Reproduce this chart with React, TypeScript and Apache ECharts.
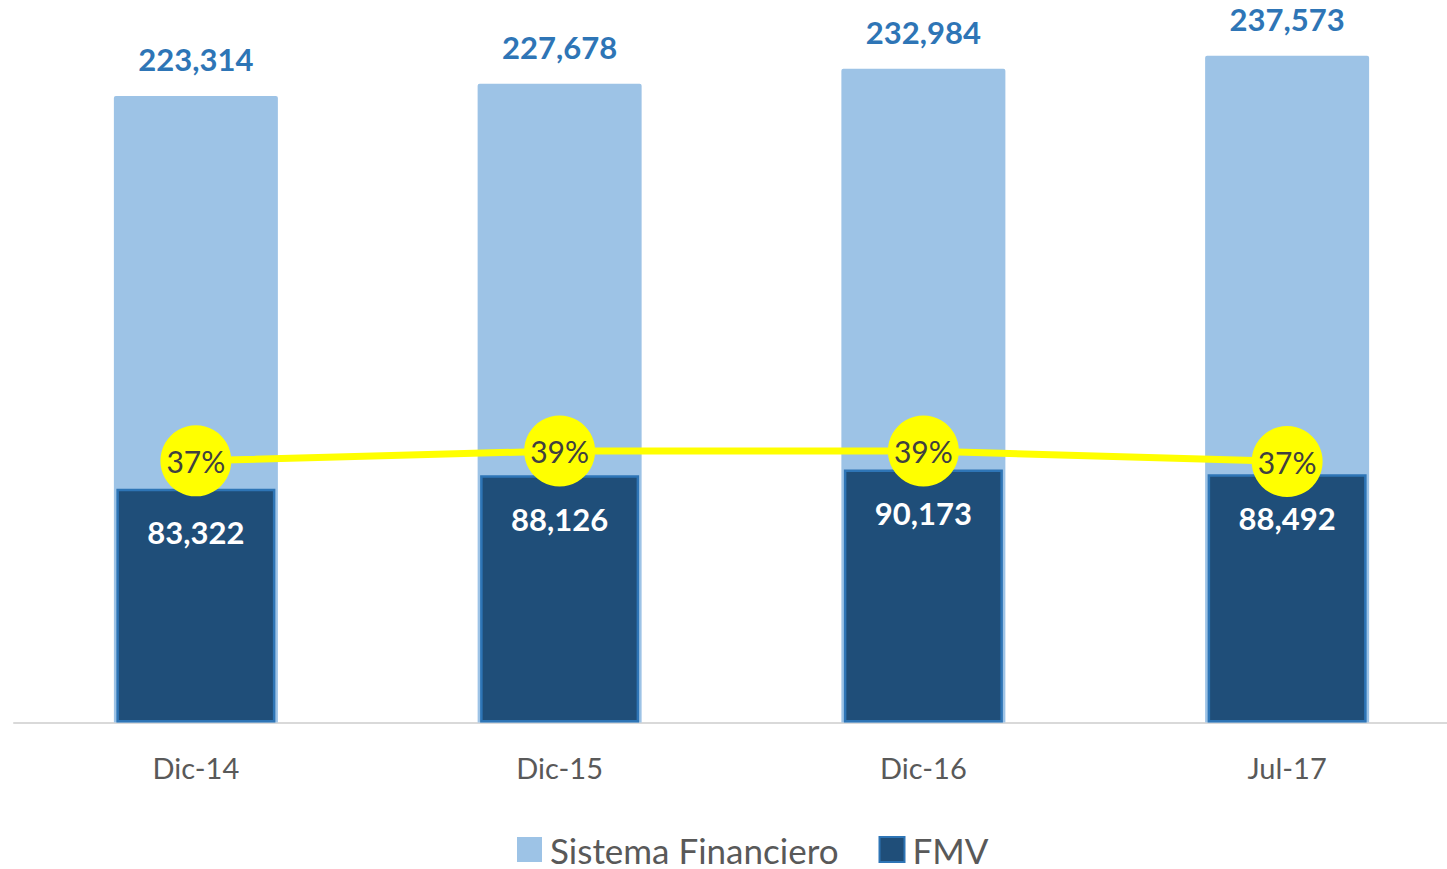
import React, { useEffect, useRef } from "react";
import * as echarts from "echarts";

const categories = ["Dic-14", "Dic-15", "Dic-16", "Jul-17"];
const sistemaFinanciero = [223314, 227678, 232984, 237573];
const fmv = [83322, 88126, 90173, 88492];
const participacion = [0.373, 0.387, 0.387, 0.372];

const FONT = "Lato, 'Open Sans', sans-serif";

export default function App() {
  const ref = useRef<HTMLDivElement>(null);
  useEffect(() => {
    if (!ref.current) return;
    const chart = echarts.init(ref.current, null, { renderer: "svg" });
    const fmt = (v: number) => v.toLocaleString("en-US");
    chart.setOption({
      animation: false,
      backgroundColor: "#ffffff",
      textStyle: { fontFamily: FONT },
      grid: { left: 14, width: 1455, top: 21, height: 701.5 },
      legend: {
        data: ["Sistema Financiero", "FMV"],
        left: 512,
        top: 827,
        icon: "rect",
        itemWidth: 25,
        itemHeight: 25,
        itemGap: 40,
        textStyle: { fontFamily: FONT, fontSize: 35, color: "#595959", padding: [0, 0, 0, 3] },
      },
      xAxis: [
        {
          type: "category",
          data: categories,
          axisLine: { lineStyle: { color: "#d9d9d9", width: 2 } },
          axisTick: { show: false },
          axisLabel: { fontFamily: FONT, fontSize: 29, color: "#595959", margin: 30 },
        },
        {
          type: "category",
          data: categories,
          show: false,
        },
      ],
      yAxis: [
        { type: "value", min: 0, max: 250000, show: false, splitLine: { show: false } },
        { type: "value", min: 0, max: 1, show: false, splitLine: { show: false } },
      ],
      series: [
        {
          name: "Sistema Financiero",
          type: "bar",
          xAxisIndex: 0,
          yAxisIndex: 0,
          data: sistemaFinanciero,
          barWidth: 164,
          z: 1,
          itemStyle: { color: "#9dc3e6", borderRadius: [2, 2, 0, 0] },
          label: {
            show: true,
            position: "top",
            distance: 21,
            formatter: (p: any) => fmt(p.value),
            fontFamily: FONT,
            fontWeight: "bold",
            fontSize: 31,
            color: "#2e75b6",
          },
        },
        {
          name: "FMV",
          type: "bar",
          xAxisIndex: 1,
          yAxisIndex: 0,
          data: fmv,
          barWidth: 159,
          z: 2,
          itemStyle: { color: "#1f4e79", borderColor: "#2e75b6", borderWidth: 2.5 },
          label: {
            show: true,
            position: "insideTop",
            distance: 28,
            formatter: (p: any) => fmt(p.value),
            fontFamily: FONT,
            fontWeight: "bold",
            fontSize: 31,
            color: "#ffffff",
          },
        },
        {
          name: "Participación",
          type: "line",
          xAxisIndex: 1,
          yAxisIndex: 1,
          data: participacion,
          z: 5,
          symbol: "circle",
          symbolSize: 71,
          lineStyle: { color: "#ffff00", width: 7 },
          itemStyle: { color: "#ffff00" },
          label: {
            show: true,
            position: "inside",
            formatter: (p: any) => Math.round(p.value * 100) + "%",
            fontFamily: FONT,
            fontSize: 30,
            color: "#404040",
          },
        },
      ],
    });
    return () => chart.dispose();
  }, []);
  return (
    <div
      style={{ position: "fixed", left: 0, top: 0, width: 1447, height: 869, overflow: "hidden", background: "#fff" }}
    >
      <div ref={ref} style={{ width: 1480, height: 869 }} />
    </div>
  );
}
